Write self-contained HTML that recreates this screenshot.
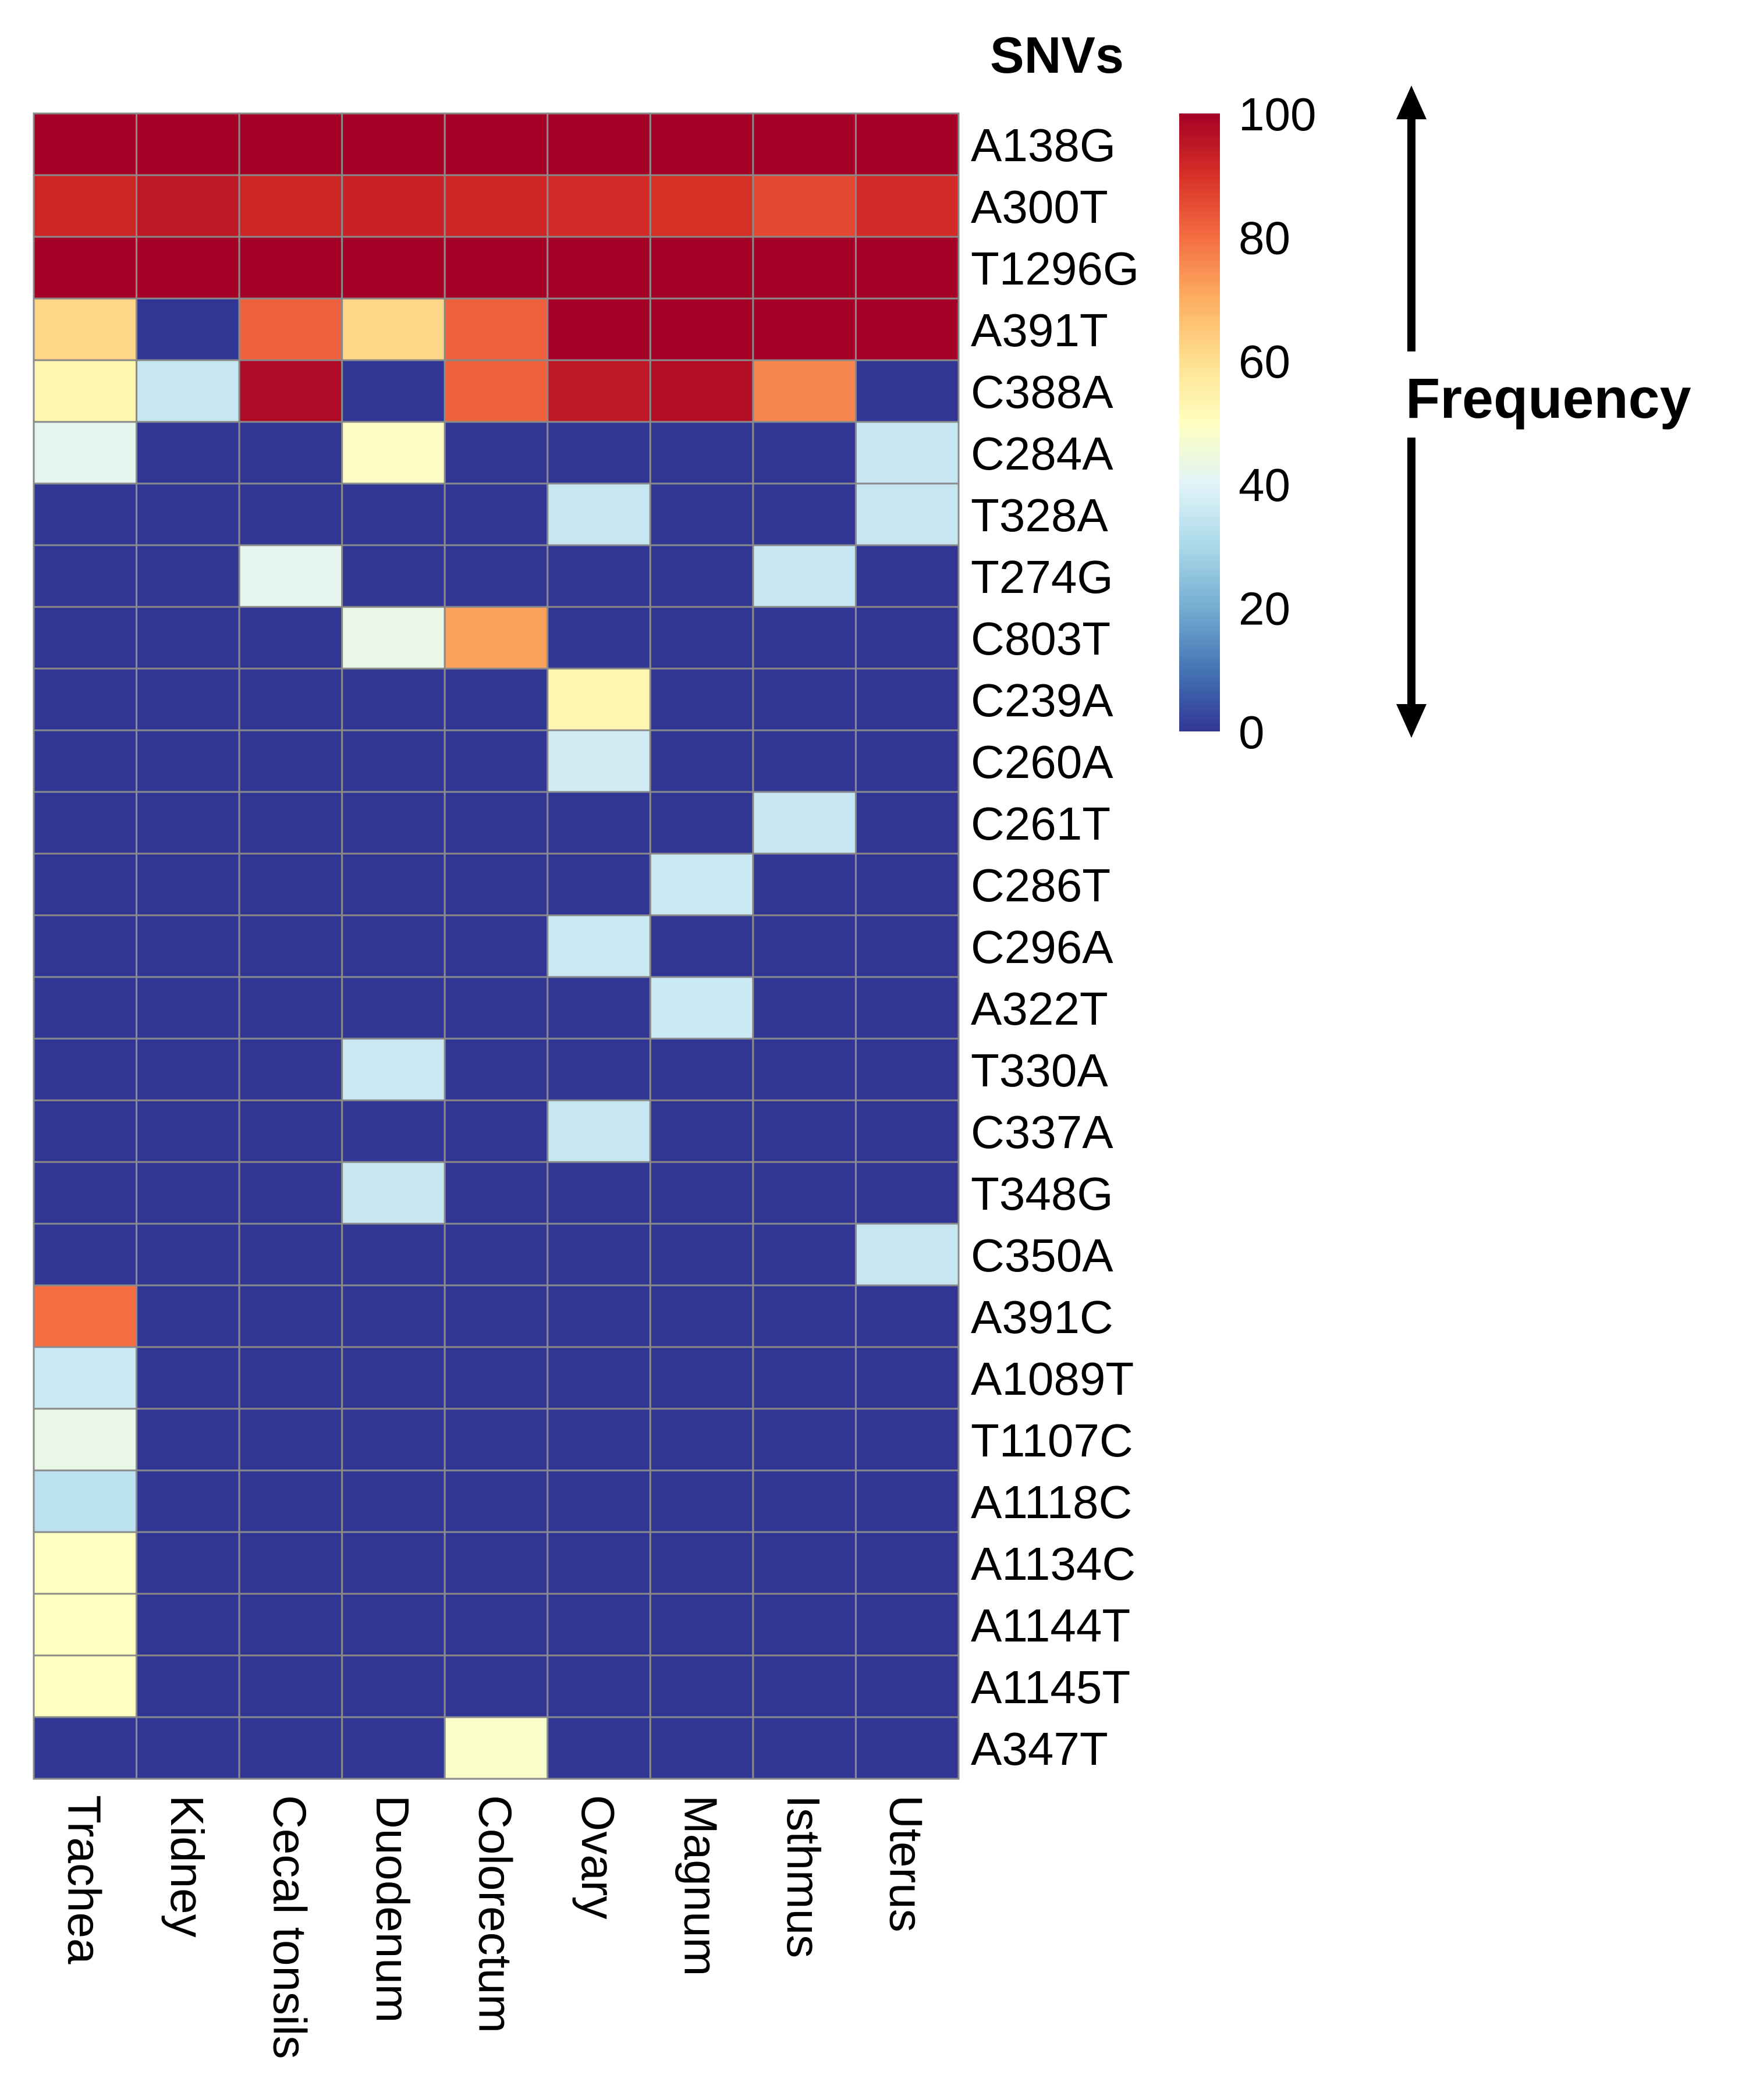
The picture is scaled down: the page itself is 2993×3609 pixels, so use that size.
<!DOCTYPE html>
<html><head><meta charset="utf-8"><style>
html,body{margin:0;padding:0;background:#fff}
svg text{font-family:"Liberation Sans",sans-serif}
</style></head><body>
<svg id="chart" width="2993" height="3604" viewBox="0 0 2993 3604" xmlns="http://www.w3.org/2000/svg">
<defs>
<linearGradient id="cbgrad" x1="0" y1="1" x2="0" y2="0">
<stop offset="0" stop-color="#313695"/><stop offset="0.1" stop-color="#4575b4"/><stop offset="0.2" stop-color="#74add1"/><stop offset="0.3" stop-color="#abd9e9"/><stop offset="0.4" stop-color="#e0f3f8"/><stop offset="0.5" stop-color="#ffffbf"/><stop offset="0.6" stop-color="#fee090"/><stop offset="0.7" stop-color="#fdae61"/><stop offset="0.8" stop-color="#f46d43"/><stop offset="0.9" stop-color="#d73027"/><stop offset="1" stop-color="#a50026"/>
</linearGradient>
</defs>
<g id="cells"></g>
<g id="rowlabels"></g>
<g id="collabels"></g>
<text x="1816" y="125" text-anchor="middle" font-weight="bold" font-size="88">SNVs</text>
<rect x="2026" y="195" width="70" height="1062" fill="url(#cbgrad)"/>
<g id="cbticks"></g>
<g>
<line x1="2425" y1="200" x2="2425" y2="604" stroke="#000" stroke-width="14"/>
<line x1="2425" y1="752" x2="2425" y2="1215" stroke="#000" stroke-width="14"/>
<polygon points="2425,147 2399,205 2451,205" fill="#000"/>
<polygon points="2425,1268 2399,1210 2451,1210" fill="#000"/>
</g>
<text x="2415" y="718" font-weight="bold" font-size="97">Frequency</text>
</svg>
<script>
const tissues = ["Trachea","Kidney","Cecal tonsils","Duodenum","Colorectum","Ovary","Magnum","Isthmus","Uterus"];
const snvs = ["A138G","A300T","T1296G","A391T","C388A","C284A","T328A","T274G","C803T","C239A","C260A","C261T","C286T","C296A","A322T","T330A","C337A","T348G","C350A","A391C","A1089T","T1107C","A1118C","A1134C","A1144T","A1145T","A347T"];
const freqValues = [
[100,100,100,100,100,100,100,100,100],
[92,95,92,93,92,91,90,86,91],
[100,100,100,100,100,100,100,100,100],
[62,0,82,62,82,100,100,100,100],
[53,35,98,0,82,95,97,76,0],
[42,0,0,49,0,0,0,0,35],
[0,0,0,0,0,35,0,0,35],
[0,0,42,0,0,0,0,35,0],
[0,0,0,43,72,0,0,0,0],
[0,0,0,0,0,53,0,0,0],
[0,0,0,0,0,37,0,0,0],
[0,0,0,0,0,0,0,35,0],
[0,0,0,0,0,0,36,0,0],
[0,0,0,0,0,36,0,0,0],
[0,0,0,0,0,0,36,0,0],
[0,0,0,36,0,0,0,0,0],
[0,0,0,0,0,35,0,0,0],
[0,0,0,35,0,0,0,0,0],
[0,0,0,0,0,0,0,0,35],
[80,0,0,0,0,0,0,0,0],
[36,0,0,0,0,0,0,0,0],
[43,0,0,0,0,0,0,0,0],
[33,0,0,0,0,0,0,0,0],
[50,0,0,0,0,0,0,0,0],
[50,0,0,0,0,0,0,0,0],
[50,0,0,0,0,0,0,0,0],
[0,0,0,0,48,0,0,0,0]
];
const cbTicks = [0,20,40,60,80,100];

const NS="http://www.w3.org/2000/svg";
const X0=58,X1=1647,Y0=195,Y1=3057;
const cw=(X1-X0)/tissues.length, rh=(Y1-Y0)/snvs.length;
const xPos=i=>X0+i*cw, yPos=j=>Y0+j*rh;
const stops=["#313695","#4575b4","#74add1","#abd9e9","#e0f3f8","#ffffbf","#fee090","#fdae61","#f46d43","#d73027","#a50026"];
function hex(h){return [1,3,5].map(i=>parseInt(h.substr(i,2),16));}
function color(v){
  const t=Math.max(0,Math.min(1,v/100))*10; const i=Math.min(9,Math.floor(t)); const f=t-i;
  const a=hex(stops[i]),b=hex(stops[i+1]);
  return "rgb("+a.map((c,k)=>Math.round(c+(b[k]-c)*f)).join(",")+")";
}
const cells=document.getElementById("cells");
snvs.forEach((s,j)=>{tissues.forEach((t,i)=>{
  const r=document.createElementNS(NS,"rect");
  r.setAttribute("x",xPos(i));r.setAttribute("y",yPos(j));
  r.setAttribute("width",cw);r.setAttribute("height",rh);
  r.setAttribute("fill",color(freqValues[j][i]));
  r.setAttribute("stroke","#8a8a8a");r.setAttribute("stroke-width","3");
  
  
  cells.appendChild(r);
});});
const rl=document.getElementById("rowlabels");
snvs.forEach((s,j)=>{
  const tx=document.createElementNS(NS,"text");
  tx.setAttribute("x",1668);tx.setAttribute("y",yPos(j)+rh/2+29);
  tx.setAttribute("font-size","80");tx.textContent=s;
  
  
  rl.appendChild(tx);
});
const cl=document.getElementById("collabels");
tissues.forEach((t,i)=>{
  const tx=document.createElementNS(NS,"text");
  const cx=xPos(i)+cw/2-29, cy=3085;
  tx.setAttribute("x",cx);tx.setAttribute("y",cy);
  tx.setAttribute("font-size","80");
  tx.setAttribute("transform","rotate(90 "+cx+" "+cy+")");
  tx.textContent=t;
  
  
  cl.appendChild(tx);
});
const cb=document.getElementById("cbticks");
cbTicks.forEach(v=>{
  const tx=document.createElementNS(NS,"text");
  const y=1257-(v/100)*1062;
  tx.setAttribute("x",2128);tx.setAttribute("y",y+29);
  tx.setAttribute("font-size","80");tx.textContent=v;
  
  
  cb.appendChild(tx);
});
</script>
</body></html>
